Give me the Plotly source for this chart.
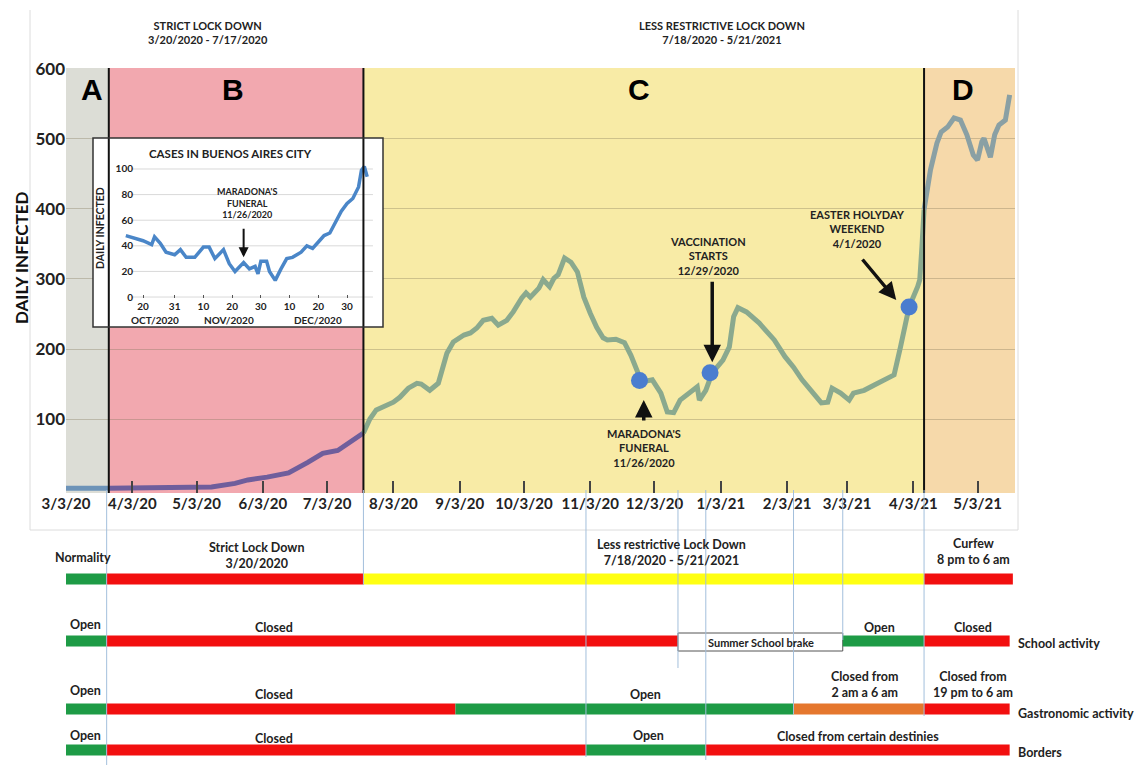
import pandas as pd
import plotly.graph_objects as go

W, H = 1148, 765
OFF = 8  # the page body adds an 8px margin around the figure
def px(p): return (p - OFF) / W
def py(p): return 1 - (p - OFF) / H

# ---------------- data ----------------
main_dates = ["2020-03-03","2020-03-23","2020-05-10","2020-05-21","2020-05-27","2020-06-05","2020-06-15",
    "2020-06-24","2020-07-01","2020-07-08","2020-07-14","2020-07-20","2020-07-23","2020-07-26","2020-07-31",
    "2020-08-03","2020-08-06","2020-08-10","2020-08-14","2020-08-16","2020-08-20","2020-08-24","2020-08-28",
    "2020-08-31","2020-09-05","2020-09-08","2020-09-11","2020-09-14","2020-09-18","2020-09-21","2020-09-25",
    "2020-09-28","2020-10-02","2020-10-04","2020-10-06","2020-10-10","2020-10-12","2020-10-15","2020-10-17",
    "2020-10-19","2020-10-22","2020-10-25","2020-10-28","2020-10-31","2020-11-03","2020-11-06","2020-11-09",
    "2020-11-11","2020-11-15","2020-11-19","2020-11-22","2020-11-24","2020-11-27","2020-12-02","2020-12-06",
    "2020-12-09","2020-12-12","2020-12-15","2020-12-18","2020-12-23","2020-12-24","2020-12-27","2020-12-30",
    "2021-01-04","2021-01-07","2021-01-09","2021-01-11","2021-01-15","2021-01-21","2021-01-28","2021-02-02",
    "2021-02-06","2021-02-10","2021-02-15","2021-02-19","2021-02-22","2021-02-24","2021-02-28","2021-03-04",
    "2021-03-06","2021-03-11","2021-03-16","2021-03-20","2021-03-25","2021-03-28","2021-03-31","2021-04-01",
    "2021-04-05","2021-04-06","2021-04-07","2021-04-08","2021-04-11","2021-04-14","2021-04-16","2021-04-19",
    "2021-04-22","2021-04-25","2021-04-28","2021-05-01","2021-05-03","2021-05-05","2021-05-06","2021-05-09",
    "2021-05-11","2021-05-13","2021-05-16","2021-05-18"]
main_cases = [1,1,3,8,13,17,23,
    38,51,55,67,80,100,113,120,
    124,131,144,151,150,141,151,194,
    210,220,223,230,241,244,234,241,
    253,273,280,274,287,299,289,301,
    306,330,324,310,274,251,231,216,
    213,214,209,191,174,153,156,137,
    110,109,127,134,146,127,141,166,
    184,203,246,259,253,237,213,189,
    174,156,137,123,124,144,137,127,
    137,141,149,156,163,203,241,260,
    289,299,346,399,456,494,510,517,
    530,527,506,477,470,496,501,474,
    506,520,527,563]

phase_labels = ["A", "B", "C", "D"]
phase_label_dates = ["2020-03-15", "2020-05-20", "2020-11-26", "2021-04-26"]
phase_starts = ["2020-03-03", "2020-03-23", "2020-07-20", "2021-04-08"]
phase_ends = ["2020-03-23", "2020-07-20", "2021-04-08", "2021-05-20 12:00"]

event_texts = ["MARADONA'S<br>FUNERAL<br>11/26/2020", "VACCINATION<br>STARTS<br>12/29/2020",
               "EASTER HOLYDAY<br>WEEKEND<br>4/1/2020"]
event_dates = ["2020-11-26", "2020-12-29", "2021-04-01"]
event_cases = [155, 166, 260]

x_tick_dates = ["2020-03-03","2020-04-03","2020-05-03","2020-06-03","2020-07-03","2020-08-03","2020-09-03",
                "2020-10-03","2020-11-03","2020-12-03","2021-01-03","2021-02-03","2021-03-03","2021-04-03","2021-05-03"]
x_tick_text = ["3/3/20","4/3/20","5/3/20","6/3/20","7/3/20","8/3/20","9/3/20","10/3/20","11/3/20",
               "12/3/20","1/3/21","2/3/21","3/3/21","4/3/21","5/3/21"]
y_ticks = [100, 200, 300, 400, 500, 600]

inset_dates = ["2020-10-14","2020-10-17","2020-10-20","2020-10-23","2020-10-24","2020-10-26","2020-10-28",
    "2020-10-31","2020-11-02","2020-11-04","2020-11-07","2020-11-10","2020-11-12","2020-11-14","2020-11-17",
    "2020-11-19","2020-11-21","2020-11-24","2020-11-26","2020-11-28","2020-11-29","2020-11-30","2020-12-02",
    "2020-12-03","2020-12-05","2020-12-07","2020-12-09","2020-12-11","2020-12-14","2020-12-16","2020-12-18",
    "2020-12-20","2020-12-22","2020-12-24","2020-12-26","2020-12-28","2020-12-30","2021-01-01","2021-01-03",
    "2021-01-04","2021-01-05","2021-01-06"]
inset_cases = [48,46,44,41,47,42,35,
    33,37,31,31,39,39,30,37,
    26,20,27,22,24,18,28,28,
    20,13,22,30,31,35,40,38,
    43,48,50,58,67,73,77,86,
    99,102,94]
inset_tick_dates = ["2020-10-20","2020-10-31","2020-11-10","2020-11-20","2020-11-30","2020-12-10","2020-12-20","2020-12-30"]
inset_tick_text = ["20","31","10","20","30","10","20","30"]
inset_months = ["OCT/2020", "NOV/2020", "DEC/2020"]
inset_month_dates = ["2020-10-24", "2020-11-19", "2020-12-20"]
inset_y_ticks = [0, 20, 40, 60, 80, 100]

# timeline rows: segment starts, ends, status
general_starts = ["2020-03-03", "2020-03-22", "2020-07-20", "2021-04-08"]
general_ends   = ["2020-03-22", "2020-07-20", "2021-04-08", "2021-05-19 12:00"]
general_status = ["open", "closed", "partial_yellow", "closed"]

school_starts = ["2020-03-03", "2020-03-22", "2020-12-14", "2021-03-01", "2021-04-08"]
school_ends   = ["2020-03-22", "2020-12-14", "2021-03-01", "2021-04-08", "2021-05-18"]
school_status = ["open", "closed", "break", "open", "closed"]

gastro_starts = ["2020-03-03", "2020-03-22", "2020-09-01", "2021-02-06", "2021-04-08"]
gastro_ends   = ["2020-03-22", "2020-09-01", "2021-02-06", "2021-04-08", "2021-05-18"]
gastro_status = ["open", "closed", "open", "partial_orange", "closed"]

border_starts = ["2020-03-03", "2020-03-22", "2020-11-01", "2020-12-27"]
border_ends   = ["2020-03-22", "2020-11-01", "2020-12-27", "2021-05-18"]
border_status = ["open", "closed", "open", "closed"]

guide_dates = ["2020-03-22", "2020-07-20", "2020-11-01", "2020-12-14", "2020-12-27", "2021-02-06", "2021-03-01", "2021-04-08"]
guide_bottoms = [765, 585, 757, 668, 760, 714, 640, 716]

# ---------------- styles ----------------
FONT = "Lato, 'Open Sans', sans-serif"
TXT = "#222222"
phase_fill = ["#dcddd6", "#f2a8af", "#f8eba6", "#f6d9aa"]
phase_line = ["#6d93b8", "#6f5e9c", "#8aa98e", "#8aa0a4"]
status_color = {"open": "#1e9b46", "closed": "#f20f0f", "partial_yellow": "#ffff12",
                "partial_orange": "#e5772e", "break": "#ffffff"}

fig = go.Figure()
df = pd.DataFrame({"d": pd.to_datetime(main_dates), "v": main_cases})

shapes = []
for s, e, c in zip(phase_starts, phase_ends, phase_fill):
    shapes.append(dict(type="rect", xref="x", yref="paper", x0=s, x1=e, y0=py(493), y1=py(68),
                       fillcolor=c, line_width=0, layer="below"))
for s, e, c in zip(phase_starts, phase_ends, phase_line):
    seg = df[(df.d >= pd.Timestamp(s)) & (df.d <= pd.Timestamp(e))]
    fig.add_trace(go.Scatter(x=seg.d, y=seg.v, mode="lines", line=dict(color=c, width=5),
                             showlegend=False, hoverinfo="skip"))
fig.add_trace(go.Scatter(x=event_dates, y=event_cases, mode="markers",
                         marker=dict(color="#4a7dcf", size=17), showlegend=False, hoverinfo="skip"))
for b in phase_starts[1:]:
    shapes.append(dict(type="line", xref="x", yref="paper", x0=b, x1=b, y0=py(493), y1=py(68),
                       line=dict(color="#111111", width=2), layer="above"))

# inset
fig.add_trace(go.Scatter(x=inset_dates, y=inset_cases, xaxis="x2", yaxis="y2", mode="lines",
                         line=dict(color="#4a86c8", width=3.5), showlegend=False, hoverinfo="skip"))
for v in inset_y_ticks:
    shapes.append(dict(type="line", xref="x2", yref="y2", x0="2020-10-16", x1="2021-01-08", y0=v, y1=v,
                       line=dict(color="#d9d9d9", width=1), layer="below"))
shapes.append(dict(type="rect", xref="paper", yref="paper", x0=px(93), x1=px(383), y0=py(327), y1=py(138),
                   line=dict(color="#333333", width=1.5), fillcolor="rgba(0,0,0,0)", layer="above"))

for (x0, y0, x1, y1) in [(30, 10, 30, 530), (30, 530, 1018, 530), (1018, 10, 1018, 530)]:
    shapes.append(dict(type="line", xref="paper", yref="paper", x0=px(x0), x1=px(x1), y0=py(y0), y1=py(y1),
                       line=dict(color="#dcdcdc", width=1)))

rows = [(general_starts, general_ends, general_status, 579),
        (school_starts, school_ends, school_status, 641),
        (gastro_starts, gastro_ends, gastro_status, 709),
        (border_starts, border_ends, border_status, 750)]
for starts, ends, stats, yc in rows:
    for s, e, st in zip(starts, ends, stats):
        if st == "break":
            shapes.append(dict(type="rect", xref="x", yref="paper", x0=s, x1=e, y0=py(yc + 10), y1=py(yc - 8),
                               fillcolor="#ffffff", line=dict(color="#555555", width=1)))
        else:
            shapes.append(dict(type="rect", xref="x", yref="paper", x0=s, x1=e, y0=py(yc + 5.5), y1=py(yc - 5.5),
                               fillcolor=status_color[st], line_width=0))
for d, b in zip(guide_dates, guide_bottoms):
    shapes.append(dict(type="line", xref="x", yref="paper", x0=d, x1=d, y0=py(b), y1=py(490),
                       line=dict(color="#a3bfdc", width=1)))

ann = []
def bold(size, color=TXT, family=FONT):
    return dict(size=size, color=color, family=family, weight="bold")
def text(xref, x, yref, y, t, font, **kw):
    d = dict(xref=xref, yref=yref, x=x, y=y, text=t, showarrow=False, font=font,
             xanchor="center", yanchor="middle")
    d.update(kw)
    ann.append(d)

text("paper", px(208), "paper", py(33), "STRICT LOCK DOWN<br>3/20/2020 - 7/17/2020", bold(11))
text("paper", px(722), "paper", py(33), "LESS RESTRICTIVE LOCK DOWN<br>7/18/2020 - 5/21/2021", bold(11))
text("paper", px(22), "paper", py(258), "DAILY INFECTED", bold(17, "#111111"), textangle=-90)
for lab, d in zip(phase_labels, phase_label_dates):
    text("x", d, "paper", py(90), lab, bold(30, "#000000", "Liberation Sans, Arial, sans-serif"))
ev_text_pos = [("2020-11-28", 448), ("2020-12-28", 256), ("2021-03-08", 229)]
for t, (d, yp) in zip(event_texts, ev_text_pos):
    text("x", d, "paper", py(yp), t, bold(11))
ev_arrows = [("2020-11-28", 127, 0, 22), ("2020-12-30", 181, 0, -82), ("2021-03-26", 270, -35, -42)]
for d, v, axo, ayo in ev_arrows:
    ann.append(dict(xref="x", yref="y", x=d, y=v, text="", showarrow=True, ax=axo, ay=ayo,
                    arrowhead=2, arrowsize=1, arrowwidth=3.5, arrowcolor="#111111"))

text("paper", px(230), "paper", py(153), "CASES IN BUENOS AIRES CITY", bold(11.5))
text("paper", px(100), "paper", py(228), "DAILY INFECTED", bold(10.5), textangle=-90)
for m, d in zip(inset_months, inset_month_dates):
    text("x2", d, "paper", py(320), m, bold(10))
text("x2", "2020-11-25", "paper", py(203), "MARADONA'S<br>FUNERAL<br>11/26/2020", bold(9))
ann.append(dict(xref="x2", yref="y2", x="2020-11-24", y=31, text="", showarrow=True, ax=0, ay=-30,
                arrowhead=2, arrowsize=1, arrowwidth=2, arrowcolor="#111111"))

tl_texts = [
    ("Normality", "2020-03-11", 557), ("Strict Lock Down<br>3/20/2020", "2020-05-31", 555),
    ("Less restrictive Lock Down<br>7/18/2020 - 5/21/2021", "2020-12-11", 552),
    ("Curfew<br>8 pm to 6 am", "2021-05-01", 551),
    ("Open", "2020-03-12", 624), ("Closed", "2020-06-08", 627), ("Open", "2021-03-18", 627),
    ("Closed", "2021-05-01", 627),
    ("Open", "2020-03-12", 690), ("Closed", "2020-06-08", 694), ("Open", "2020-11-29", 694),
    ("Closed from<br>2 am a 6 am", "2021-03-11", 684), ("Closed from<br>19 pm to 6 am", "2021-05-01", 684),
    ("Open", "2020-03-12", 735), ("Closed", "2020-06-08", 738), ("Open", "2020-11-30", 735),
    ("Closed from certain destinies", "2021-03-08", 736),
]
for t, d, yp in tl_texts:
    text("x", d, "paper", py(yp), t, bold(12.5))
text("x", "2021-01-22", "paper", py(642), "Summer School brake", bold(11))
for t, yp in [("School activity", 643), ("Gastronomic activity", 713), ("Borders", 752)]:
    text("paper", px(1016), "paper", py(yp), t, bold(12.5), xanchor="left")

fig.update_layout(
    width=W, height=H, margin=dict(l=0, r=0, t=0, b=0, pad=0, autoexpand=False), autosize=False,
    paper_bgcolor="white", plot_bgcolor="white", showlegend=False,
    font=dict(family=FONT, color=TXT),
    xaxis=dict(domain=[px(66), px(1015)], range=["2020-03-03", "2021-05-20 12:00"], type="date",
               tickmode="array", tickvals=x_tick_dates, ticktext=x_tick_text, ticks="inside", ticklen=12,
               tickwidth=1.5, tickcolor="#444444", showgrid=False, zeroline=False, showline=False,
               tickangle=0, automargin=False,
               tickfont=dict(size=15, family=FONT, color="#222222", weight="bold"), anchor="y"),
    yaxis=dict(domain=[py(493), py(68)], range=[-5.7, 601.4], tickmode="array", tickvals=y_ticks,
               showgrid=True, gridcolor="rgba(130,118,90,0.35)", gridwidth=1, zeroline=False, showline=False,
               ticks="", automargin=False,
               tickfont=dict(size=17, family=FONT, color="#222222", weight="bold"), anchor="x"),
    xaxis2=dict(domain=[px(93), px(383)], range=["2020-10-02 14:00", "2021-01-11 12:00"], type="date",
                anchor="free", position=py(294), tickmode="array", tickvals=inset_tick_dates,
                ticktext=inset_tick_text, ticks="outside", ticklen=3, tickcolor="#555555",
                showgrid=False, zeroline=False, showline=False, tickangle=0, automargin=False,
                tickfont=dict(size=10, family=FONT, color="#222222", weight="bold")),
    yaxis2=dict(domain=[py(327), py(138)], range=[-23.4, 124.2], anchor="free", position=px(133),
                tickmode="array", tickvals=inset_y_ticks, ticks="", showgrid=False, zeroline=False,
                showline=False, automargin=False,
                tickfont=dict(size=10, family=FONT, color="#222222", weight="bold")),
    shapes=shapes, annotations=ann,
)

fig.write_html("out.html")
